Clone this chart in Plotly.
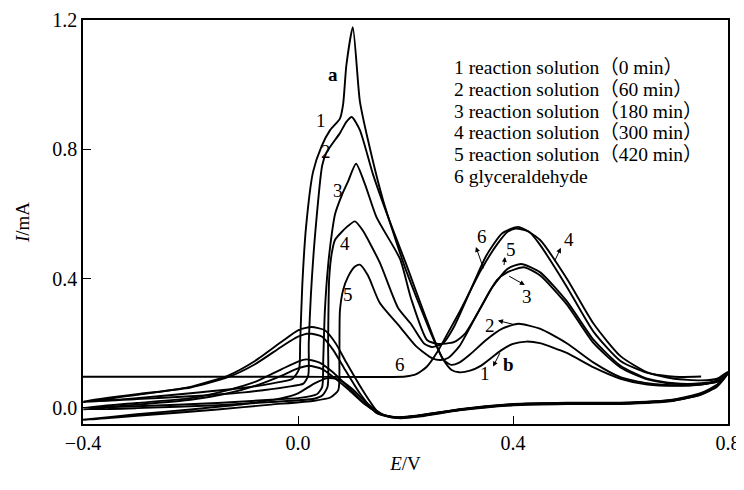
import plotly.graph_objects as go

# cyclic voltammograms, traced point by point (E in V, I in mA)
# each curve: reverse scan 0.8 -> -0.4, then forward scan -0.4 -> 0.8
c1_e = [0.80, 0.78, 0.75, 0.70, 0.65, 0.60, 0.55, 0.50, 0.45, 0.425, 0.40, 0.38, 0.36, 0.34, 0.32, 0.30, 0.285, 0.27,
        0.25, 0.20, 0.158, 0.13, 0.115, 0.102, 0.09, 0.084, 0.078, 0.06, 0.044, 0.028, 0.015, 0.008, 0.004, 0.002,
        -0.01, -0.05, -0.1, -0.2, -0.3, -0.4,
        -0.3, -0.2, -0.13, -0.08, -0.03, 0.0, 0.025, 0.05, 0.07, 0.09, 0.12, 0.15, 0.18, 0.22, 0.3, 0.4, 0.5, 0.6,
        0.7, 0.75, 0.78, 0.80]
c1_i = [0.110, 0.085, 0.072, 0.068, 0.072, 0.090, 0.125, 0.170, 0.200, 0.205, 0.198, 0.180, 0.155, 0.130, 0.115, 0.110,
        0.118, 0.150, 0.220, 0.430, 0.644, 0.830, 0.950, 1.178, 1.060, 0.940, 0.895, 0.860, 0.810, 0.730, 0.560, 0.380,
        0.200, 0.120, 0.090, 0.075, 0.062, 0.045, 0.030, 0.017,
        0.040, 0.065, 0.100, 0.145, 0.205, 0.240, 0.250, 0.240, 0.200, 0.140, 0.055, -0.015, -0.030, -0.026, -0.005,
        0.011, 0.015, 0.015, 0.025, 0.044, 0.070, 0.110]

c2_e = [0.80, 0.78, 0.75, 0.70, 0.65, 0.60, 0.55, 0.50, 0.45, 0.41, 0.38, 0.35, 0.32, 0.30, 0.285, 0.27, 0.24, 0.20,
        0.17, 0.14, 0.115, 0.10, 0.09, 0.078, 0.053, 0.045, 0.032, 0.024, 0.02, 0.019, 0.01, -0.02, -0.1, -0.2, -0.3,
        -0.4,
        -0.3, -0.2, -0.13, -0.08, -0.03, 0.0, 0.02, 0.045, 0.065, 0.085, 0.115, 0.145, 0.175, 0.22, 0.3, 0.4, 0.5,
        0.6, 0.7, 0.75, 0.78, 0.80]
c2_i = [0.108, 0.082, 0.072, 0.070, 0.076, 0.095, 0.140, 0.200, 0.245, 0.260, 0.245, 0.210, 0.165, 0.140, 0.133, 0.150,
        0.270, 0.450, 0.580, 0.720, 0.860, 0.900, 0.885, 0.850, 0.790, 0.750, 0.540, 0.350, 0.200, 0.100, 0.075, 0.065,
        0.048, 0.036, 0.027, 0.020,
        0.042, 0.063, 0.095, 0.135, 0.190, 0.220, 0.230, 0.220, 0.180, 0.125, 0.045, -0.015, -0.030, -0.025, -0.004,
        0.012, 0.016, 0.016, 0.026, 0.046, 0.072, 0.108]

c3_e = [0.80, 0.78, 0.75, 0.70, 0.65, 0.60, 0.55, 0.50, 0.45, 0.42, 0.39, 0.37, 0.34, 0.31, 0.29, 0.26, 0.24, 0.21,
        0.19, 0.146, 0.125, 0.108, 0.093, 0.082, 0.069, 0.063, 0.056, 0.05, 0.047, 0.045, 0.035, 0.0, -0.05, -0.15,
        -0.3, -0.4,
        -0.3, -0.2, -0.13, -0.08, -0.03, 0.0, 0.015, 0.04, 0.065, 0.09, 0.12, 0.15, 0.18, 0.22, 0.3, 0.4, 0.5, 0.6,
        0.7, 0.75, 0.78, 0.80]
c3_i = [0.106, 0.080, 0.074, 0.074, 0.088, 0.125, 0.200, 0.320, 0.410, 0.435, 0.420, 0.395, 0.310, 0.228, 0.203, 0.198,
        0.210, 0.340, 0.460, 0.590, 0.690, 0.755, 0.700, 0.660, 0.600, 0.540, 0.440, 0.300, 0.150, 0.065, 0.042, 0.030,
        0.025, 0.015, 0.005, 0.000,
        0.015, 0.030, 0.055, 0.080, 0.120, 0.143, 0.150, 0.140, 0.110, 0.070, 0.020, -0.018, -0.029, -0.024, -0.006,
        0.010, 0.014, 0.014, 0.024, 0.043, 0.068, 0.106]

c4_e = [0.80, 0.78, 0.75, 0.70, 0.65, 0.60, 0.55, 0.50, 0.45, 0.41, 0.38, 0.35, 0.32, 0.29, 0.27, 0.25, 0.235, 0.21,
        0.186, 0.152, 0.12, 0.106, 0.091, 0.069, 0.063, 0.058, 0.056, 0.055, 0.045, 0.03, -0.05, -0.15, -0.3, -0.4,
        -0.3, -0.2, -0.13, -0.08, -0.03, 0.0, 0.02, 0.045, 0.07, 0.095, 0.125, 0.155, 0.185, 0.22, 0.3, 0.4, 0.5,
        0.6, 0.7, 0.75, 0.78, 0.80]
c4_i = [0.112, 0.090, 0.085, 0.090, 0.110, 0.160, 0.260, 0.400, 0.520, 0.560, 0.540, 0.470, 0.360, 0.250, 0.200, 0.188,
        0.198, 0.260, 0.310, 0.450, 0.550, 0.577, 0.560, 0.520, 0.480, 0.400, 0.200, 0.065, 0.038, 0.028, 0.018, 0.008,
        -0.001, -0.005,
        0.010, 0.025, 0.045, 0.068, 0.100, 0.122, 0.130, 0.120, 0.090, 0.055, 0.010, -0.020, -0.030, -0.026, -0.007,
        0.009, 0.013, 0.013, 0.023, 0.042, 0.070, 0.112]

c5_e = [0.80, 0.78, 0.75, 0.70, 0.65, 0.60, 0.55, 0.50, 0.45, 0.415, 0.39, 0.36, 0.33, 0.30, 0.28, 0.265, 0.25, 0.22,
        0.19, 0.152, 0.13, 0.115, 0.106, 0.093, 0.084, 0.078, 0.077, 0.075, 0.06, 0.03, -0.05, -0.15, -0.3, -0.4,
        -0.3, -0.2, -0.1, -0.03, 0.0, 0.03, 0.055, 0.075, 0.1, 0.13, 0.16, 0.19, 0.23, 0.3, 0.4, 0.5, 0.6, 0.7,
        0.75, 0.78, 0.80]
c5_i = [0.108, 0.084, 0.076, 0.076, 0.090, 0.130, 0.210, 0.330, 0.420, 0.445, 0.430, 0.370, 0.280, 0.190, 0.155, 0.148,
        0.153, 0.190, 0.250, 0.325, 0.410, 0.443, 0.437, 0.405, 0.365, 0.300, 0.150, 0.055, 0.032, 0.022, 0.010,
        -0.005, -0.025, -0.037,
        -0.020, -0.005, 0.012, 0.030, 0.045, 0.075, 0.092, 0.088, 0.060, 0.012, -0.022, -0.032, -0.026, -0.008,
        0.008, 0.012, 0.012, 0.022, 0.041, 0.066, 0.108]

# glyceraldehyde, single sweep
c6_e = [-0.4, -0.2, 0.0, 0.2, 0.22, 0.24, 0.26, 0.28, 0.30, 0.34, 0.37, 0.39, 0.405, 0.43, 0.45, 0.50, 0.55, 0.60,
        0.65, 0.70, 0.75]
c6_i = [0.096, 0.096, 0.096, 0.097, 0.104, 0.128, 0.175, 0.235, 0.295, 0.425, 0.505, 0.545, 0.555, 0.545, 0.505,
        0.375, 0.235, 0.145, 0.108, 0.096, 0.097]

legend_lines = ["1 reaction solution（0 min）", "2 reaction solution（60 min）", "3 reaction solution（180 min）",
                "4 reaction solution（300 min）", "5 reaction solution（420 min）", "6 glyceraldehyde"]

FONT = "Liberation Serif, Times New Roman, Noto Sans CJK SC, serif"

fig = go.Figure()
for e, i in [(c1_e, c1_i), (c2_e, c2_i), (c3_e, c3_i), (c4_e, c4_i), (c5_e, c5_i), (c6_e, c6_i)]:
    fig.add_trace(go.Scatter(x=e, y=i, mode="lines", showlegend=False, hoverinfo="skip",
                             line=dict(color="black", width=1.9, shape="spline", smoothing=0.6)))

annotations = []
# legend block
for k, txt in enumerate(legend_lines):
    annotations.append(dict(x=0.2865, y=1.053 - k * 0.0675, text=txt, showarrow=False, xanchor="left",
                            yanchor="middle", font=dict(size=19.5, family=FONT, color="black")))

# curve numbers
labels = [("1", 0.043, 0.889), ("2", 0.052, 0.793), ("3", 0.074, 0.672), ("4", 0.087, 0.508), ("5", 0.093, 0.35),
          ("6", 0.19, 0.133), ("6", 0.342, 0.529), ("5", 0.396, 0.489), ("3", 0.426, 0.344), ("2", 0.357, 0.254),
          ("1", 0.348, 0.105), ("4", 0.504, 0.52)]
for txt, x, y in labels:
    annotations.append(dict(x=x, y=y, text=txt, showarrow=False, font=dict(size=19, family=FONT, color="black")))
for txt, x, y in [("a", 0.065, 1.031), ("b", 0.391, 0.133)]:
    annotations.append(dict(x=x, y=y, text="<b>%s</b>" % txt, showarrow=False,
                            font=dict(size=19, family=FONT, color="black")))

# leader arrows: head near the label, tail on the curve
arrows = [(0.331, 0.498, 0.346, 0.427), (0.385, 0.467, 0.383, 0.437), (0.422, 0.380, 0.390, 0.410),
          (0.372, 0.270, 0.404, 0.257), (0.363, 0.128, 0.377, 0.174), (0.489, 0.495, 0.476, 0.449)]
for x, y, ax, ay in arrows:
    annotations.append(dict(x=x, y=y, ax=ax, ay=ay, xref="x", yref="y", axref="x", ayref="y", text="",
                            showarrow=True, arrowhead=2, arrowsize=1, arrowwidth=1, arrowcolor="black"))

# page body adds an 8 px margin, so the figure is 16 px smaller than the window
fig.update_layout(
    width=736, height=482,
    margin=dict(l=75, r=16, t=12, b=66),
    plot_bgcolor="white", paper_bgcolor="white",
    font=dict(family=FONT, size=20, color="black"),
    annotations=annotations,
    xaxis=dict(range=[-0.4, 0.8], tickvals=[-0.4, 0.0, 0.4, 0.8], ticktext=["−0.4", "0.0", "0.4", "0.8"],
               ticks="inside", ticklen=8, tickcolor="black", showline=True, linecolor="black", linewidth=1.5,
               mirror=True, showgrid=False, zeroline=False, automargin=False,
               title=dict(text="<i>E</i>/V", font=dict(size=19), standoff=4)),
    yaxis=dict(range=[-0.05, 1.2], tickvals=[0.0, 0.4, 0.8, 1.2], ticktext=["0.0", "0.4", "0.8", "1.2"],
               ticks="inside", ticklen=8, tickcolor="black", showline=True, linecolor="black", linewidth=1.5,
               mirror=True, showgrid=False, zeroline=False, automargin=False,
               title=dict(text="<i>I</i>/mA", font=dict(size=19), standoff=18)),
)

fig.write_html("out.html")
